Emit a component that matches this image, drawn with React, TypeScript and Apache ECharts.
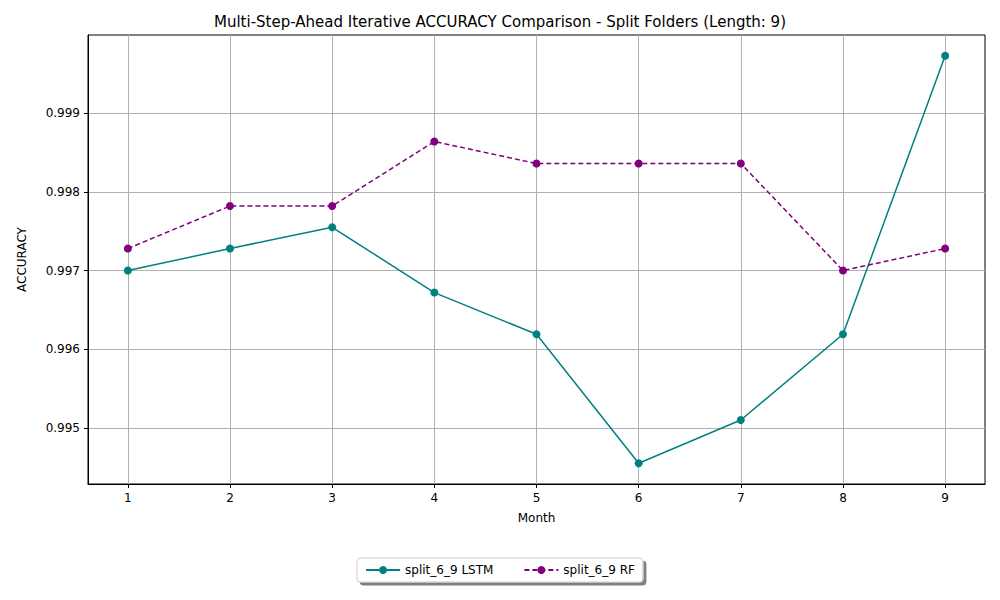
import React, { useEffect, useRef } from 'react';
import * as echarts from 'echarts';

const months = [1, 2, 3, 4, 5, 6, 7, 8, 9];
const lstm = [0.997, 0.99728, 0.99755, 0.99672, 0.99619, 0.99455, 0.9951, 0.99619, 0.99973];
const rf = [0.99728, 0.99782, 0.99782, 0.99864, 0.99836, 0.99836, 0.99836, 0.997, 0.99728];
const yTicks = [0.995, 0.996, 0.997, 0.998, 0.999];

const App: React.FC = () => {
  const chartRef = useRef<HTMLDivElement>(null);

  useEffect(() => {
    if (!chartRef.current) return undefined;
    const chart = echarts.init(chartRef.current, null, { renderer: 'svg' });
    const font = 'DejaVu Sans';
    const axisBase = {
      axisLine: { onZero: false, lineStyle: { color: '#000' } },
      axisTick: { lineStyle: { color: '#000' }, length: 4 },
      splitLine: { show: true, lineStyle: { color: '#b0b0b0', width: 1 } },
      nameTextStyle: { color: '#000', fontFamily: font, fontSize: 12 },
    };
    chart.setOption({
      animation: false,
      textStyle: { fontFamily: font },
      title: {
        text: 'Multi-Step-Ahead Iterative ACCURACY Comparison - Split Folders (Length: 9)',
        left: 'center',
        top: 1,
        textStyle: { fontFamily: font, fontSize: 15, fontWeight: 'normal', color: '#000' },
      },
      grid: {
        left: 77, right: 7, top: 27, bottom: 108,
        show: true, borderColor: '#000', borderWidth: 1,
      },
      xAxis: {
        ...axisBase,
        type: 'value',
        min: 0.61,
        max: 9.39,
        name: 'Month',
        nameLocation: 'middle',
        nameGap: 28,
        axisTick: { ...axisBase.axisTick, customValues: months },
        axisLabel: { customValues: months, color: '#000', fontSize: 12, margin: 8 },
      },
      yAxis: {
        ...axisBase,
        type: 'value',
        min: 0.994287,
        max: 0.999994,
        name: 'ACCURACY',
        nameLocation: 'middle',
        nameGap: 60,
        axisTick: { ...axisBase.axisTick, customValues: yTicks },
        axisLabel: {
          customValues: yTicks,
          color: '#000',
          fontSize: 12,
          formatter: (v: number) => v.toFixed(3),
        },
      },
      legend: {
        bottom: 10,
        left: 'center',
        itemWidth: 34,
        itemHeight: 10,
        itemGap: 30,
        padding: [6, 8],
        borderColor: '#ccc',
        borderWidth: 1,
        borderRadius: 3,
        backgroundColor: '#fff',
        shadowColor: 'rgba(0,0,0,0.5)',
        shadowOffsetX: 3,
        shadowOffsetY: 3,
        textStyle: { fontSize: 12, color: '#000' },
      },
      series: [
        {
          name: 'split_6_9 LSTM',
          type: 'line',
          data: months.map((m, i) => [m, lstm[i]]),
          symbol: 'circle',
          symbolSize: 8,
          color: '#008080',
          lineStyle: { width: 1.5 },
        },
        {
          name: 'split_6_9 RF',
          type: 'line',
          data: months.map((m, i) => [m, rf[i]]),
          symbol: 'circle',
          symbolSize: 8,
          color: '#800080',
          lineStyle: { width: 1.5, type: [5, 3] },
        },
      ],
    });
    return () => chart.dispose();
  }, []);

  return <div ref={chartRef} style={{ width: 984, height: 584 }} />;
};

export default App;
